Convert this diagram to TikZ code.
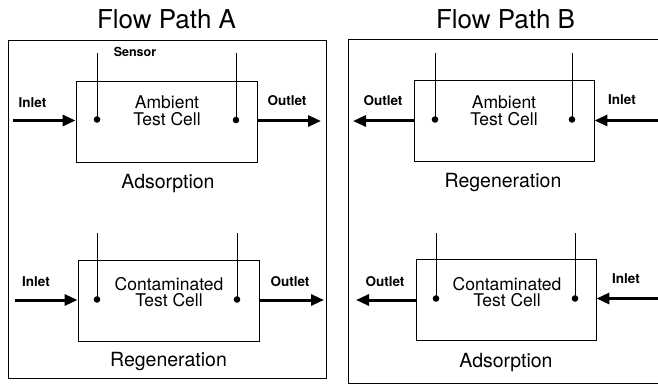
\documentclass[tikz,border=0pt]{standalone}
\usepackage{fontspec}
\setmainfont{TeX Gyre Heros}
\usetikzlibrary{arrows.meta}
\usetikzlibrary{calc}

\tikzset{
  frame/.style={line width=1pt},
  cell/.style={draw, line width=0.9pt, minimum width=181pt, minimum height=81pt, inner sep=0pt},
  celltext/.style={font=\fontsize{17.5}{16.7}\selectfont, align=center, inner sep=0pt},
  pathtitle/.style={font=\fontsize{26}{26}\selectfont, inner sep=0pt, anchor=base},
  modetext/.style={font=\fontsize{19.5}{20}\selectfont, inner sep=0pt, anchor=base},
  porttext/.style={font=\bfseries\fontsize{13.5}{14}\selectfont, inner sep=0pt, anchor=base},
  flow/.style={line width=3pt, -{Triangle[length=13pt,width=11pt]}},
  probe/.style={line width=0.8pt},
}

\begin{document}
\begin{tikzpicture}[x=1pt,y=-1pt]
            \useasboundingbox (0,0) rectangle (658,387);

            % frames
            \draw[frame] (8,41) rectangle (326,378);
            \draw[frame] (658,40) -- (348,40) -- (348,383) -- (658,383);

            \node[pathtitle] (titleA) at (166.5,28.3) {Flow Path A};
            \node[pathtitle] (titleB) at (505.5,28.3) {Flow Path B};

            % test cells
            \node[cell] (cellA1) at (166.5,121.5) {};
            \node[cell] (cellA2) at (168.5,301) {};
            \node[cell, minimum width=180pt] (cellB1) at (504,121) {};
            \node[cell, minimum width=180pt] (cellB2) at (506,300) {};

            \node[celltext] (txtA1) at (167,110.5) {Ambient\\Test Cell};
            \node[celltext] (txtA2) at (169,292) {Contaminated\\Test Cell};
            \node[celltext] (txtB1) at (504,110.5) {Ambient\\Test Cell};
            \node[celltext] (txtB2) at (507,292) {Contaminated\\Test Cell};

            \node[modetext] (modeA1) at (168,189) {Adsorption};
            \node[modetext] (modeA2) at (168.5,366) {Regeneration};
            \node[modetext] (modeB1) at (503,188) {Regeneration};
            \node[modetext] (modeB2) at (506,367) {Adsorption};

            % sensors
            \coordinate (sA1) at (97,119.5);
            \coordinate (sA2) at (236,120);
            \coordinate (sA3) at (97,299.5);
            \coordinate (sA4) at (237,299.5);
            \coordinate (sB1) at (435,119.5);
            \coordinate (sB2) at (572,119.5);
            \coordinate (sB3) at (436,298.5);
            \coordinate (sB4) at (575,298.5);

            \foreach \p in {sA1,sA2,sB1,sB2}{
                \draw[probe] (\p) -- (\p |- 0,53);
                \fill (\p) circle (3.3pt);
            }
            \foreach \p in {sA3,sA4,sB3,sB4}{
                \draw[probe] (\p) -- (\p |- 0,233);
                \fill (\p) circle (3.3pt);
            }
            \node[porttext, font=\bfseries\fontsize{12.5}{13}\selectfont] (sensor) at (135,56.7) {Sensor};

            % flow arrows
            \coordinate (inA1) at (13,120.5);
            \coordinate (outA1) at (321,121);
            \coordinate (inA2) at (15,300);
            \coordinate (outA2) at (324,300);
            \coordinate (inB1) at (658,120.5);
            \coordinate (outB1) at (353,121);
            \coordinate (inB2) at (658,298.5);
            \coordinate (outB2) at (356,300);

            \draw[flow] (inA1) -- (inA1 -| cellA1.west);
            \draw[flow] (cellA1.east |- outA1) -- (outA1);
            \draw[flow] (inA2) -- (inA2 -| cellA2.west);
            \draw[flow] (cellA2.east |- outA2) -- (outA2);
            \draw[flow] (inB1) -- (inB1 -| cellB1.east);
            \draw[flow] (cellB1.west |- outB1) -- (outB1);
            \draw[flow] (inB2) -- (inB2 -| cellB2.east);
            \draw[flow] (cellB2.west |- outB2) -- (outB2);

            \node[porttext] (inletA1) at (32.5,108) {Inlet};
            \node[porttext] (outletA1) at (287,106) {Outlet};
            \node[porttext] (inletA2) at (36,287) {Inlet};
            \node[porttext] (outletA2) at (290,286) {Outlet};
            \node[porttext] (outletB1) at (383,106) {Outlet};
            \node[porttext] (inletB1) at (622,105) {Inlet};
            \node[porttext] (outletB2) at (385,286) {Outlet};
            \node[porttext] (inletB2) at (626,283) {Inlet};
        \end{tikzpicture}
\end{document}
